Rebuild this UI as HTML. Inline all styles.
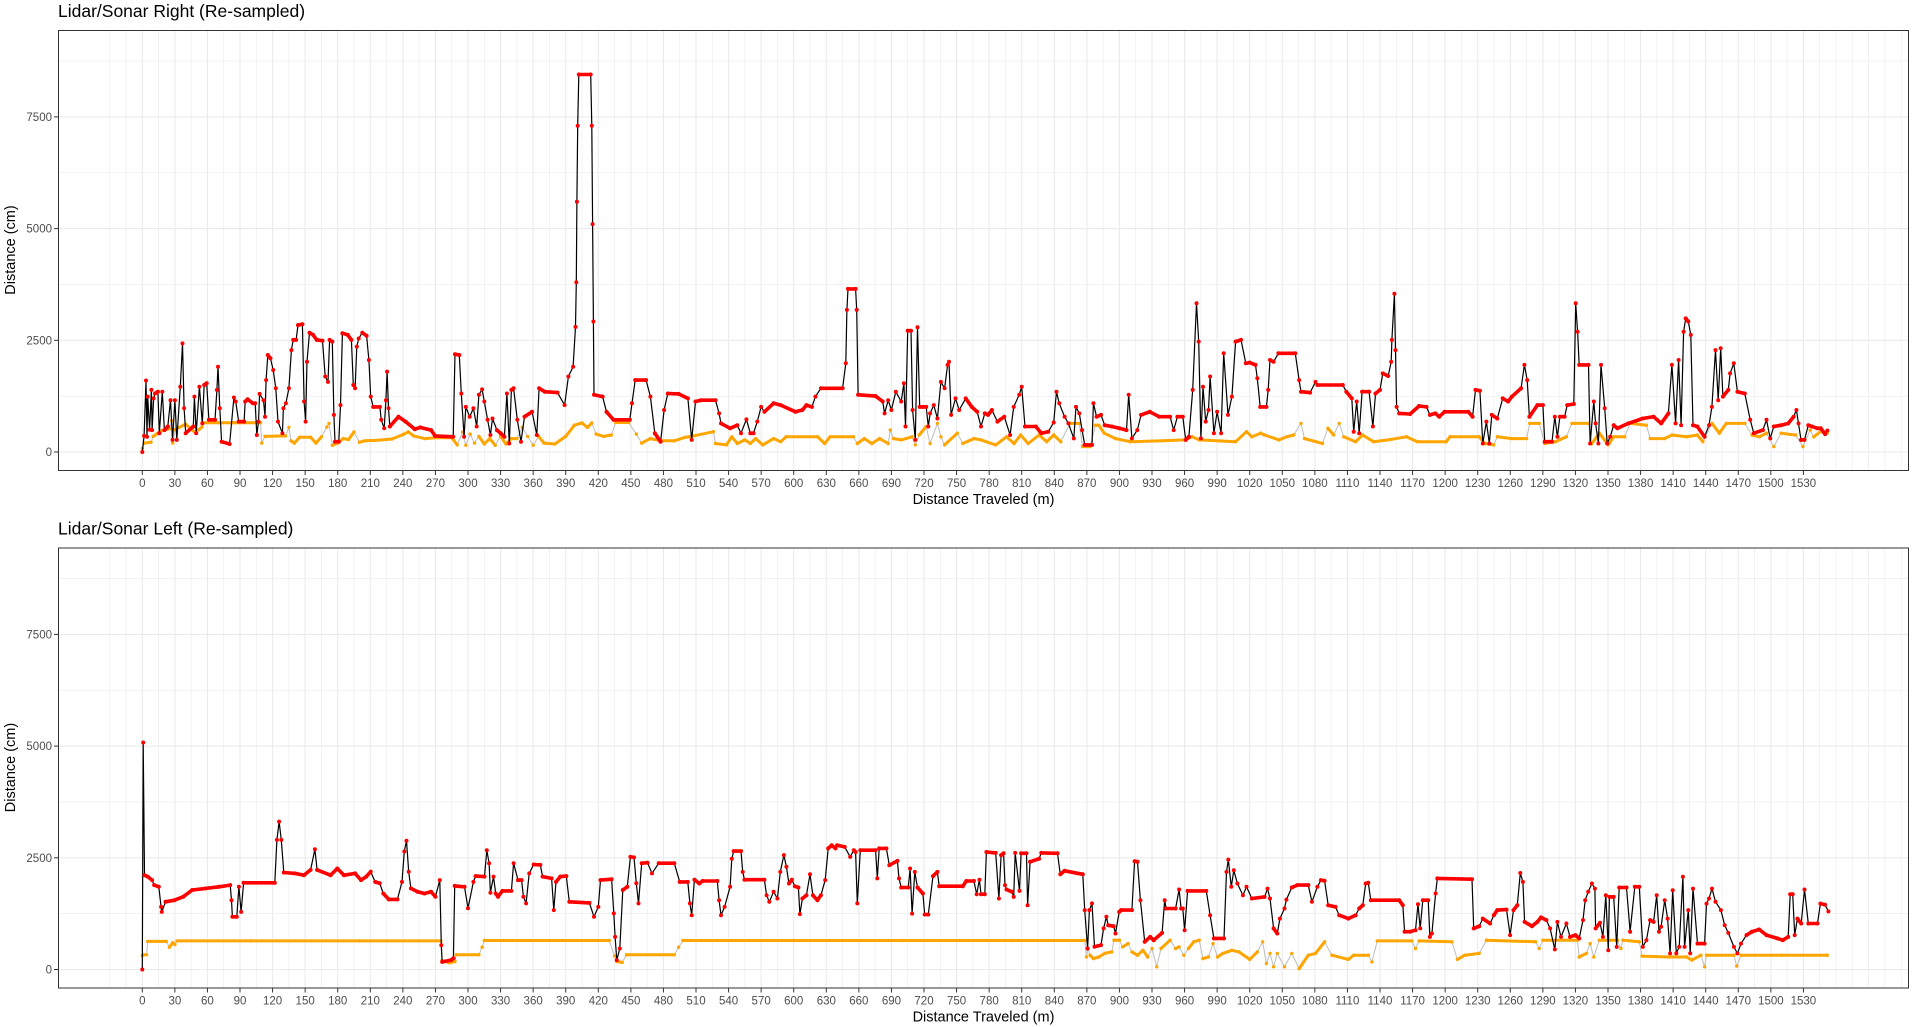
<!DOCTYPE html>
<html><head><meta charset="utf-8"><title>Lidar/Sonar</title>
<style>
html,body{margin:0;padding:0;background:#fff;}
svg{display:block;font-family:"Liberation Sans",Arial,sans-serif;}
</style></head>
<body>
<svg id="chart" width="1914" height="1027" viewBox="0 0 1914 1027" xmlns="http://www.w3.org/2000/svg"></svg>
<script>
// ---- data ----
const xTickLabels = [0,30,60,90,120,150,180,210,240,270,300,330,360,390,420,450,480,510,540,570,600,630,660,690,720,750,780,810,840,870,900,930,960,990,1020,1050,1080,1110,1140,1170,1200,1230,1260,1290,1320,1350,1380,1410,1440,1470,1500,1530];
const yTickLabels = [0,2500,5000,7500];
const panelTitles = ["Lidar/Sonar Right (Re-sampled)","Lidar/Sonar Left (Re-sampled)"];

const rightLidar = [[0,0],[1.7,360],[3.4,1600],[4.3,340],[5,1240],[6.7,500],[8.4,1390],[9,490],[10.4,1200],[11.7,1310],[14.4,1350],[15.7,420],[18.4,1350],[20.4,490],[23.5,570],[26,1160],[27.8,270],[30,1160],[31.8,270],[35,1460],[37,2430],[38.5,980],[40,420],[47,570],[48,1240],[49.6,420],[52.6,1460],[55.3,640],[57,1500],[59.3,1540],[61.3,720],[67,720],[68.7,1390],[69.7,1910],[71.4,980],[73,230],[80.4,180],[84.4,1220],[86,1130],[88.8,680],[93.8,680],[94.8,1130],[97,1180],[102,1090],[104,1090],[105.5,380],[107,680],[108,1300],[111.6,1160],[113,790],[114,1610],[115.6,2170],[118,2100],[120.6,1835],[123,1425],[125,680],[129,420],[130,980],[132.3,1090],[135,1425],[137.3,2280],[139,2510],[141.7,2510],[143.4,2840],[147.5,2860],[149,1130],[150.4,680],[151.7,2020],[154,2670],[157.3,2620],[160.7,2510],[166,2490],[168.5,1690],[171,1570],[172.5,2510],[175,2470],[176.5,830],[177.5,230],[181,230],[182.6,1050],[184.3,2660],[189.3,2620],[192.6,2510],[194.3,1500],[196,1425],[197.6,2360],[199.3,2540],[202.6,2670],[206.6,2600],[208.7,2060],[210.4,1240],[212.7,1010],[218.8,1010],[220,720],[222.8,530],[224.4,1160],[225.5,1800],[226.8,980],[228,570],[236,790],[242.5,680],[251,510],[256,550],[266,490],[269.7,360],[286.4,340],[288,2190],[292,2170],[293.8,1310],[296.4,340],[298,1010],[301.6,790],[305,980],[308,570],[310,1280],[313,1400],[315,1130],[318,720],[320.6,380],[322.6,750],[326.6,490],[330,420],[333.5,340],[335.8,1310],[338,190],[340,1390],[342,1425],[345.4,720],[348.8,230],[352,790],[359,900],[363.4,380],[365.5,1425],[370.7,1350],[382.4,1330],[389,1050],[392.5,1690],[396.8,1910],[399,2800],[399.7,3800],[400.3,5600],[401,7300],[402,8450],[413,8450],[414,7300],[414.8,5100],[415.5,2920],[416,1280],[424,1240],[427.6,900],[434,720],[449,720],[451,1090],[454,1610],[464,1610],[468,1240],[472,420],[477.4,230],[480.6,940],[484,1310],[494,1300],[502.5,1200],[506,270],[509.5,1130],[514.5,1160],[528,1160],[531.3,865],[533,640],[541.4,530],[548,600],[551.4,420],[556.4,730],[560,420],[563,420],[566.5,680],[570,1010],[573,900],[581.5,1090],[588,1050],[601.6,900],[608,940],[611.7,1050],[616.7,1010],[620,1240],[625,1425],[645,1425],[648,1985],[649,3180],[650,3650],[657,3650],[658,3180],[659.3,1280],[675.4,1250],[682,1130],[683.7,865],[687,1160],[690,940],[694,1350],[699,1130],[701.5,1540],[703,570],[705,2715],[708,2715],[709.5,940],[712,270],[714,2790],[716,1010],[719,1010],[722,1010],[724,570],[725.6,865],[729,1050],[732.3,750],[735.6,1570],[739,1425],[741.7,1950],[743,2020],[745,830],[749,1200],[752.4,940],[758.4,1200],[764,1010],[769,900],[772.5,570],[776,865],[779,830],[782.5,940],[787.6,680],[794,790],[799.3,380],[802.6,1010],[807.7,1280],[810,1460],[813,570],[823,570],[828,420],[834.5,455],[839.5,660],[842,1350],[844.5,1090],[849.5,790],[853,640],[858,305],[860,1010],[863,865],[865.6,490],[868,160],[874.7,160],[876,1090],[879,790],[883,830],[886.4,600],[893,570],[900,530],[906.5,490],[908.5,1280],[911.5,305],[916.5,490],[920,830],[928,900],[936.6,790],[946.7,790],[950,490],[953.4,790],[958.4,790],[961,270],[964,340],[967.5,1390],[971,3330],[973,2470],[975,305],[977,1460],[979.5,680],[982,940],[983.5,1690],[987,420],[990,900],[993.6,420],[996,2210],[1000,830],[1003.6,1240],[1007,2470],[1012,2510],[1016.4,1985],[1020,2000],[1025.3,1950],[1027,1650],[1029.7,1010],[1035.4,1010],[1037,1390],[1038.7,2060],[1042,2020],[1046.4,2210],[1062,2210],[1065.5,1610],[1067.2,1350],[1075.6,1330],[1080.6,1570],[1082.3,1500],[1105.7,1500],[1109,1350],[1114,1200],[1115.8,455],[1118.5,1130],[1120.8,420],[1123.5,1350],[1130,1350],[1133.5,570],[1135.9,1310],[1140,1390],[1142.6,1760],[1147.6,1700],[1150.3,2020],[1151,2510],[1153.3,3540],[1154.3,2280],[1155.3,1010],[1157.7,865],[1167.7,850],[1176,1030],[1182.8,1010],[1186,830],[1191,865],[1194.5,790],[1199.5,900],[1221.3,900],[1225.3,790],[1228,1390],[1232,1370],[1234.7,190],[1238,680],[1240.7,190],[1243,830],[1248,750],[1253,1200],[1258,1130],[1261.5,1240],[1270,1425],[1273,1950],[1275.6,1610],[1277.6,790],[1285,1050],[1290,1050],[1291.7,230],[1298.4,230],[1301,790],[1303.4,340],[1305.7,790],[1310,790],[1312.4,1050],[1318.5,1075],[1320.3,3330],[1322,2690],[1323.5,1950],[1332,1950],[1333.5,190],[1336.9,1130],[1338.6,640],[1341.2,190],[1343.6,1950],[1347,980],[1349.3,190],[1352,340],[1355.3,600],[1358.6,530],[1368.7,640],[1382,750],[1392,790],[1399,640],[1405.6,865],[1408.9,1950],[1412.3,640],[1415,2060],[1417.3,600],[1419.6,2690],[1421.6,2990],[1424,2920],[1426.3,2620],[1428.3,600],[1432.3,570],[1439,340],[1443,600],[1445.7,1010],[1449,2280],[1451.5,1160],[1453.8,2320],[1455.8,1240],[1460.8,1390],[1462.5,1760],[1465.9,1985],[1469.2,1350],[1476,1310],[1481,720],[1484.3,420],[1492.7,490],[1496,720],[1499.4,305],[1502.7,570],[1509.4,600],[1516,640],[1521,790],[1523.5,940],[1525.5,640],[1527.8,270],[1531,270],[1534.5,600],[1537.8,570],[1542.9,530],[1546,530],[1550,400],[1552,480]];

const rightSonar = [[0,80],[2,200],[8,220],[10,350],[13,400],[18,480],[25,520],[27,700],[28,200],[30,500],[38,600],[40,620],[48,450],[52,500],[55,560],[57,655],[70,655],[85,655],[109,655],[110,200],[113,350],[132,360],[135,550],[137,250],[140,200],[145,330],[155,330],[160,200],[165,340],[170,560],[172,640],[175,150],[180,200],[185,300],[190,280],[195,450],[200,220],[205,250],[215,260],[230,290],[240,390],[245,450],[250,360],[260,300],[270,320],[285,320],[290,160],[295,450],[298,150],[302,400],[306,200],[310,350],[315,180],[320,300],[325,150],[330,350],[335,180],[340,300],[345,300],[350,550],[355,350],[360,150],[365,350],[370,200],[380,180],[390,350],[398,600],[405,650],[410,550],[414,650],[418,400],[425,350],[432,380],[436,660],[448,660],[455,400],[460,200],[468,300],[478,250],[490,250],[500,330],[504,340],[526,455],[528,190],[538,160],[543,340],[548,190],[555,270],[560,190],[565,300],[571.5,160],[581.5,300],[588,230],[593,340],[622,340],[628.5,190],[633.5,340],[655,340],[658.6,190],[665,300],[672,190],[679,300],[687,190],[689,490],[692,300],[699,270],[709,340],[712,160],[715.6,380],[722,570],[725.6,190],[732.3,640],[735.6,340],[739,160],[750.7,420],[755.7,190],[766,300],[772.5,270],[786,160],[796,340],[803,190],[809,380],[816,190],[826,380],[833,230],[839.5,380],[846,230],[854.6,640],[863,640],[866,120],[873,120],[878,600],[881,600],[886,420],[896.5,300],[910,230],[940,250],[960,270],[967,340],[973.5,270],[1007,230],[1017,455],[1022,340],[1030,420],[1033.7,380],[1047,270],[1054,340],[1060.5,380],[1067.2,640],[1070.5,300],[1087,190],[1092,530],[1097.4,380],[1102.4,640],[1106.7,340],[1117.5,230],[1124,380],[1134,230],[1147.6,270],[1164.4,340],[1174.4,230],[1201,230],[1204.5,340],[1231.4,340],[1236.4,190],[1244.7,160],[1248,340],[1261.5,300],[1275,300],[1278,640],[1286.6,640],[1291.7,190],[1301.7,230],[1311.7,340],[1316.8,640],[1332,640],[1335.2,190],[1342,420],[1350.3,160],[1355.3,340],[1365.4,340],[1370.4,640],[1385.4,600],[1389,300],[1402,300],[1409,380],[1422.3,340],[1432.3,380],[1437.4,230],[1445.8,640],[1452.5,420],[1459,640],[1476,640],[1482.6,380],[1489.3,340],[1496,420],[1502.7,120],[1509.4,420],[1522.8,380],[1529.5,120],[1536.2,490],[1539.6,340],[1545.6,455],[1552,420]];

const leftLidar = [[0,0],[0.8,5080],[2,2110],[5,2080],[9,2000],[11,1890],[15.2,1850],[17.3,1400],[18,1290],[21.4,1515],[29.6,1550],[37.8,1630],[46,1780],[58.4,1815],[70.7,1850],[81,1890],[82.2,1550],[83,1180],[87,1180],[89,1850],[91,1290],[93.3,1940],[122,1940],[124,2900],[126,3310],[128,2900],[130.3,2170],[140.6,2150],[148.8,2110],[155,2230],[159,2690],[161,2230],[173.4,2110],[179.6,2260],[185.8,2110],[196,2150],[201.4,2000],[206.3,2080],[210.4,2190],[214.5,1960],[218.7,1930],[222,1700],[227,1570],[235,1570],[239.2,1960],[241.3,2640],[243.3,2880],[245.4,2190],[247.4,1815],[253.6,1740],[259.8,1700],[266,1740],[270,1630],[274,2000],[275.4,545],[276.2,170],[284.4,210],[286.5,250],[287.7,1870],[296.8,1850],[300,1370],[305,1960],[307,2090],[315.2,2080],[317.3,2670],[319.4,2380],[320.6,1720],[323.5,2080],[325.5,1700],[327.6,1630],[331.7,1760],[340,1760],[342,2380],[346,2000],[349.4,2000],[351,1630],[353.5,1480],[356.4,2150],[360.5,2350],[366.6,2340],[368.7,2080],[377,2040],[379,1330],[381,1960],[385,2080],[390.5,2090],[393.3,1515],[411.8,1490],[416,1180],[420,1400],[422,2000],[432.3,2020],[434.3,1255],[435.5,730],[437,210],[439.8,470],[442.6,1780],[446.7,1850],[449.6,2520],[452.9,2510],[455,1930],[457,1480],[460,2380],[465.3,2390],[469.5,2150],[475.6,2380],[490,2380],[495,1960],[502.4,1960],[504.4,1480],[506,1215],[508.5,2010],[513,1925],[516,1980],[529.6,1980],[531.3,1550],[533,1215],[536.3,1400],[541.4,1850],[543,2480],[544.7,2650],[551.4,2650],[553,2185],[554.7,2010],[573,2010],[575,1660],[577.5,1515],[581.5,1740],[585,1590],[587.6,2185],[591,2560],[593.3,2300],[595.6,1925],[598.3,2010],[601,1865],[604.3,1835],[605.7,1240],[608,1590],[611.7,1660],[615,2130],[617.7,1660],[621.8,1550],[625,1660],[629,2000],[631.8,2710],[635,2780],[638.5,2710],[640,2780],[647,2745],[652,2520],[655.3,2670],[657,2630],[658.6,1480],[661.3,2670],[675.4,2670],[677,2040],[678.7,2710],[685.4,2710],[688,2335],[695.5,2430],[697,2040],[699,1835],[705.5,1835],[707.2,2260],[709,1250],[711.5,2185],[714,1835],[719,1700],[720.6,1230],[724,1230],[728.3,2090],[732.3,2185],[734,1865],[755.7,1865],[759,1980],[766,1980],[768.5,1685],[771,2010],[772.5,1685],[776,1685],[777.5,2630],[786,2610],[789,1590],[791,2560],[793.3,2600],[794.6,1890],[796,1790],[801,1740],[802.6,1625],[804,2610],[808,1760],[809.4,2600],[814.4,2600],[815.4,1440],[817.7,2410],[826,2480],[828,2610],[843,2600],[845.5,2130],[849.5,2210],[866.3,2130],[868,1330],[870.7,470],[872.3,1330],[874.7,1480],[877,510],[883,545],[885.4,920],[888,1180],[889.7,990],[894.7,970],[896.4,805],[899.8,1290],[901.5,1330],[911.5,1330],[914,2425],[916.6,2410],[919.3,1550],[923.3,620],[928.3,730],[931.6,655],[939.3,820],[941.7,1550],[943,1365],[951.7,1365],[955,1790],[956.8,1365],[958.4,1365],[960,880],[962.8,1760],[980,1760],[983.5,1215],[987,695],[996.3,695],[998.6,2185],[1000.3,2460],[1003,1850],[1005.3,2220],[1008.7,1925],[1013.7,1660],[1017,1850],[1022,1590],[1033.7,1625],[1036.4,1810],[1038.7,1590],[1042,920],[1045.4,805],[1047.8,1140],[1052,1365],[1053.8,1565],[1058.8,1835],[1063.9,1890],[1074,1890],[1077.3,1515],[1082.3,1850],[1085.6,2000],[1089,1985],[1092.3,1440],[1099,1400],[1102.4,1215],[1110.8,1140],[1117.5,1215],[1120.8,1365],[1124.2,1440],[1126.8,1925],[1129.2,1940],[1131.5,1550],[1157.7,1550],[1161,1440],[1162.7,845],[1167.7,845],[1172.7,880],[1175,1460],[1177,920],[1179.4,1550],[1184.4,1550],[1186,730],[1187.8,805],[1191.2,1700],[1192.8,2040],[1224.7,2020],[1226.3,920],[1231.4,970],[1234.7,1140],[1241.4,1030],[1244.8,1215],[1248,1330],[1256.5,1340],[1259.8,770],[1263,1330],[1266.5,1440],[1269.2,2160],[1271.6,1960],[1273.2,1065],[1280,970],[1285,1065],[1288.3,1165],[1293.3,1105],[1296.7,920],[1301,450],[1303.4,1065],[1306.7,730],[1311.7,1030],[1315,730],[1320,770],[1323.5,695],[1327,1105],[1329,1550],[1331.8,1740],[1335.2,1925],[1337.9,1810],[1338.6,920],[1342.6,1045],[1345.3,730],[1348,1660],[1350.3,430],[1351.3,1625],[1355.3,1625],[1358,505],[1360.3,1835],[1367,1835],[1370.4,845],[1374.7,1850],[1378.8,1850],[1382.1,505],[1385.4,655],[1388.8,1105],[1392,1065],[1394.9,1660],[1397,845],[1398.9,955],[1402.2,1550],[1404.9,1140],[1407.2,360],[1409.6,1775],[1412.9,360],[1415.6,505],[1419,2075],[1420.6,505],[1424,1330],[1425.7,360],[1428.3,1810],[1432.4,580],[1439,580],[1440.7,1475],[1443,1590],[1445.8,1810],[1449,1515],[1454,1330],[1457.5,990],[1460.8,820],[1466,505],[1469.2,360],[1472.5,580],[1477.6,770],[1482.6,845],[1489.3,895],[1496,770],[1506,695],[1511,655],[1516,730],[1517.8,1685],[1520.1,1685],[1522,770],[1524.5,1140],[1528,1030],[1531,1790],[1534.5,1030],[1543,1030],[1545.6,1475],[1550,1450],[1553,1300]];

const leftSonar = [[0,310],[1,330],[4,330],[5,630],[22,630],[25,500],[28,600],[30,560],[32,640],[100,640],[200,640],[275,640],[276,200],[283,150],[288,180],[289,330],[310,330],[313,500],[315,650],[430,650],[435,300],[437,180],[442,160],[446,330],[490,330],[494,500],[498,650],[600,650],[700,650],[800,650],[868,650],[869.7,280],[871,470],[873,320],[876,245],[881,280],[886.4,360],[893,395],[895,655],[900,655],[903,505],[908,580],[911.5,395],[916.6,320],[921.6,430],[926,280],[930,470],[934.3,60],[938.3,470],[946.7,655],[951.7,470],[955,505],[959.4,320],[963.5,470],[968.5,620],[973.5,655],[977,245],[982,280],[986.2,580],[990.3,280],[995.3,360],[1003.6,430],[1010,395],[1020,225],[1027,395],[1032,620],[1035.4,135],[1038.7,360],[1042,60],[1045.4,360],[1052,60],[1058.8,360],[1065.5,20],[1074,320],[1080.6,360],[1089,620],[1095.7,320],[1110.8,225],[1115.8,320],[1129.2,320],[1132.5,170],[1137.5,640],[1169.4,640],[1172.7,470],[1176,640],[1206.2,620],[1211.3,225],[1218,320],[1231.4,360],[1238,655],[1283.3,620],[1286.6,470],[1290,655],[1321.8,655],[1323.5,280],[1330.2,360],[1333.5,580],[1336.9,280],[1342,655],[1358.7,655],[1362,470],[1363.7,655],[1378.8,620],[1381.4,300],[1405.6,280],[1422.3,280],[1427.3,210],[1435.7,320],[1439,60],[1440.7,320],[1466,320],[1468.5,75],[1472.6,320],[1510,320],[1552,320]];

// ---- rendering ----
const NS = "http://www.w3.org/2000/svg";
const svg = document.getElementById("chart");
const PL = 58, PR = 1909, PT = 30, PB = 471;
const X0 = 142.3, XS = 1.0857;
const Y0 = 452, YS = 0.04468;
const PANEL_OFFSETS = [0, 517.5];
function xScale(m){ return X0 + m * XS; }
function yScale(v, off){ return off + Y0 - v * YS; }
function mk(tag, attrs, parent){
  const e = document.createElementNS(NS, tag);
  for (const k in attrs) e.setAttribute(k, attrs[k]);
  (parent || svg).appendChild(e);
  return e;
}
// path of the segments whose on-screen slope is shallow (densely sampled look)
function shallowPath(series, off, maxSlope){
  let d = "";
  for (let i = 1; i < series.length; i++){
    const x1 = xScale(series[i-1][0]), y1 = yScale(series[i-1][1], off);
    const x2 = xScale(series[i][0]), y2 = yScale(series[i][1], off);
    if (Math.abs(y2 - y1) <= maxSlope * Math.abs(x2 - x1)){
      d += "M" + x1.toFixed(1) + "," + y1.toFixed(1) + "L" + x2.toFixed(1) + "," + y2.toFixed(1);
    }
  }
  return d;
}

function drawPanel(idx, lidar, sonar){
  const off = PANEL_OFFSETS[idx];
  const g = mk("g", {});
  
  

  const title = mk("text", {x: PL, y: off + 17, "font-size": 17.5, fill: "#000"}, g);
  title.textContent = panelTitles[idx];
  
  

  const bg = mk("rect", {x: PL, y: off + PT, width: PR - PL, height: PB - PT, fill: "#fff"}, g);
  
  

  const grid = mk("g", {}, g);
  
  
  for (let m = -30; m <= 1620; m += 15){
    const x = xScale(m);
    if (x <= PL || x >= PR) continue;
    const major = xTickLabels.indexOf(m) >= 0;
    mk("line", {x1: x, x2: x, y1: off + PT, y2: off + PB, stroke: "#ebebeb", "stroke-width": major ? 1.1 : 0.6}, grid);
  }
  for (let v = 1250; v <= 9000; v += 2500){
    const y = yScale(v, off);
    mk("line", {x1: PL, x2: PR, y1: y, y2: y, stroke: "#ebebeb", "stroke-width": 0.6}, grid);
  }
  yTickLabels.forEach(v => {
    const y = yScale(v, off);
    mk("line", {x1: PL, x2: PR, y1: y, y2: y, stroke: "#ebebeb", "stroke-width": 1.1}, grid);
  });

  // sonar series
  const sonarPath = sonar.map((p,i) => (i ? "L" : "M") + xScale(p[0]).toFixed(1) + "," + yScale(p[1], off).toFixed(1)).join("");
  const sl = mk("path", {d: sonarPath, fill: "none", stroke: "#bdbdbd", "stroke-width": 1}, g);
  
  
  const sb = mk("path", {d: shallowPath(sonar, off, 1.5), fill: "none", stroke: "#FFA500", "stroke-width": 3, "stroke-linecap": "round"}, g);
  
  
  const sd = mk("g", {fill: "#FFA500"}, g);
  
  
  sonar.forEach(p => {
    const c = mk("circle", {cx: xScale(p[0]).toFixed(1), cy: yScale(p[1], off).toFixed(1), r: 1.7}, sd);
    
    
  });

  // lidar series
  const lidarPath = lidar.map((p,i) => (i ? "L" : "M") + xScale(p[0]).toFixed(1) + "," + yScale(p[1], off).toFixed(1)).join("");
  const ll = mk("path", {d: lidarPath, fill: "none", stroke: "#000", "stroke-width": 1.2, "stroke-linejoin": "round"}, g);
  
  
  const lb = mk("path", {d: shallowPath(lidar, off, 1.5), fill: "none", stroke: "#FF0000", "stroke-width": 3.6, "stroke-linecap": "round"}, g);
  
  
  const ld = mk("g", {fill: "#FF0000"}, g);
  
  
  lidar.forEach(p => {
    const c = mk("circle", {cx: xScale(p[0]).toFixed(1), cy: yScale(p[1], off).toFixed(1), r: 2}, ld);
    
    
  });

  const border = mk("rect", {x: PL + 0.5, y: off + PT + 0.5, width: PR - PL - 1, height: PB - PT - 1, fill: "none", stroke: "#333", "stroke-width": 1}, g);
  
  

  const ya = mk("g", {}, g);
  
  
  yTickLabels.forEach(v => {
    const y = yScale(v, off);
    mk("line", {x1: PL - 4, x2: PL, y1: y, y2: y, stroke: "#333", "stroke-width": 1}, ya);
    const t = mk("text", {x: PL - 6, y: y + 4, "font-size": 11.5, fill: "#4d4d4d", "text-anchor": "end"}, ya);
    t.textContent = v;
    
    
  });
  const yt = mk("text", {x: 0, y: 0, "font-size": 14.5, fill: "#000", "text-anchor": "middle", transform: "translate(15," + (off + 250) + ") rotate(-90)"}, g);
  yt.textContent = "Distance (cm)";
  
  

  const xa = mk("g", {}, g);
  
  
  xTickLabels.forEach(m => {
    const x = xScale(m);
    mk("line", {x1: x, x2: x, y1: off + PB, y2: off + PB + 4, stroke: "#333", "stroke-width": 1}, xa);
    const t = mk("text", {x: x, y: off + 487, "font-size": 11.5, fill: "#4d4d4d", "text-anchor": "middle"}, xa);
    t.textContent = m;
    
    
  });
  const xt = mk("text", {x: 983.5, y: off + 504, "font-size": 14.5, fill: "#000", "text-anchor": "middle"}, g);
  xt.textContent = "Distance Traveled (m)";
  
  
}

drawPanel(0, rightLidar, rightSonar);
drawPanel(1, leftLidar, leftSonar);
</script>
</body></html>
